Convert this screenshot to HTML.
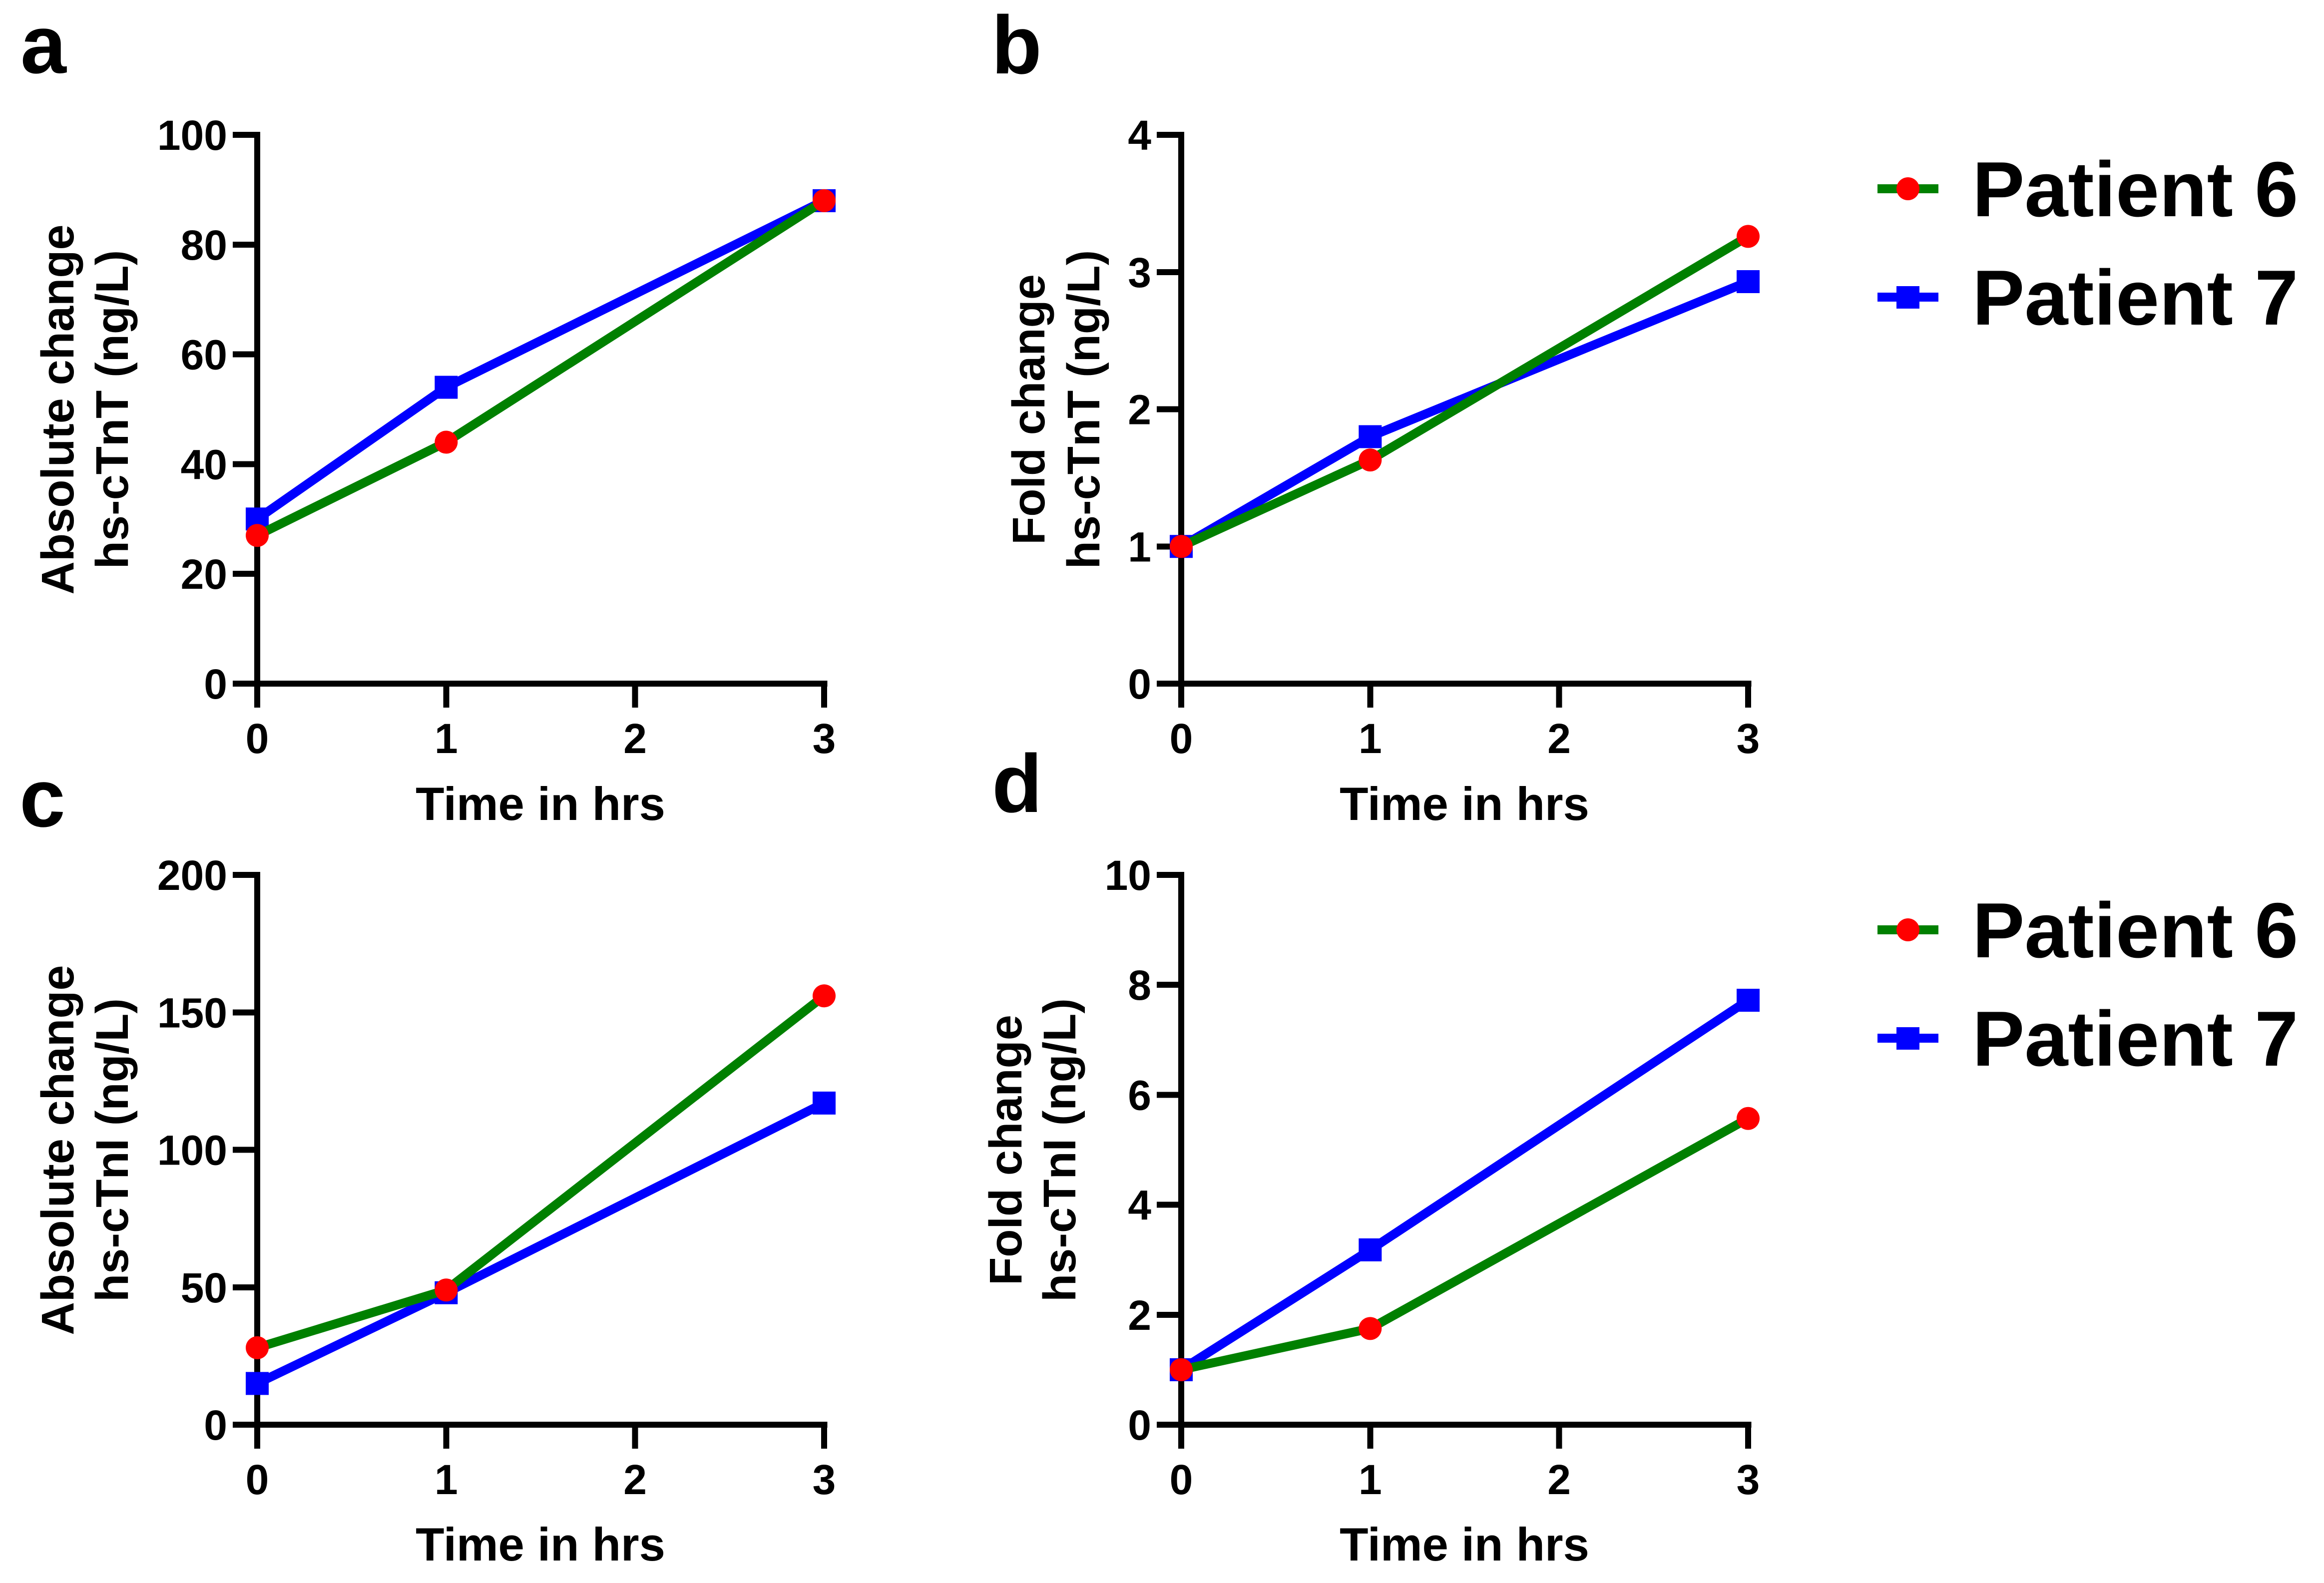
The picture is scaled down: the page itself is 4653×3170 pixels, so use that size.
<!DOCTYPE html>
<html lang="en">
<head>
<meta charset="utf-8">
<title>hs-cTnT and hs-cTnI change over time</title>
<style>
  html, body { margin: 0; padding: 0; background: #fff; }
  svg { display: block; }
  text { font-family: "Liberation Sans", Arial, sans-serif; font-weight: 700; fill: #000; }
  .panel-letter { font-size: 165px; }
  .axis-title { font-size: 92px; }
  .x-title { font-size: 94px; }
  .tick-label { font-size: 84px; }
  .legend-label { font-size: 156.5px; }
</style>
</head>
<body>
<svg id="figure" xmlns="http://www.w3.org/2000/svg" width="4653" height="3170" viewBox="0 0 4653 3170">
  <rect x="0" y="0" width="4653" height="3170" fill="#ffffff"/>

  <text class="panel-letter" x="41" y="146">a</text>
  <text class="panel-letter" x="1985" y="147">b</text>
  <text class="panel-letter" x="39" y="1655">c</text>
  <text class="panel-letter" x="1986" y="1626">d</text>

  <g id="panel-a">
    <text class="axis-title" text-anchor="middle" transform="translate(147 820) rotate(-90)">Absolute change</text>
    <text class="axis-title" text-anchor="middle" transform="translate(256 820) rotate(-90)">hs-cTnT (ng/L)</text>
    <text class="axis-title x-title" text-anchor="middle" x="1082" y="1642">Time in hrs</text>
  </g>
  <g id="panel-b">
    <text class="axis-title" text-anchor="middle" transform="translate(2091 820) rotate(-90)">Fold change</text>
    <text class="axis-title" text-anchor="middle" transform="translate(2201 820) rotate(-90)">hs-cTnT (ng/L)</text>
    <text class="axis-title x-title" text-anchor="middle" x="2932" y="1642">Time in hrs</text>
  </g>
  <g id="panel-c">
    <text class="axis-title" text-anchor="middle" transform="translate(147 2303) rotate(-90)">Absolute change</text>
    <text class="axis-title" text-anchor="middle" transform="translate(256 2303) rotate(-90)">hs-cTnI (ng/L)</text>
    <text class="axis-title x-title" text-anchor="middle" x="1082" y="3125">Time in hrs</text>
  </g>
  <g id="panel-d">
    <text class="axis-title" text-anchor="middle" transform="translate(2045 2303) rotate(-90)">Fold change</text>
    <text class="axis-title" text-anchor="middle" transform="translate(2153 2303) rotate(-90)">hs-cTnI (ng/L)</text>
    <text class="axis-title x-title" text-anchor="middle" x="2932" y="3125">Time in hrs</text>
  </g>

  <g id="legend-top">
    <g>
      <rect x="3759" y="369" width="122" height="18" fill="#008000"/>
      <circle cx="3820" cy="378" r="23" fill="#ff0000"/>
      <text class="legend-label" x="3949" y="433">Patient 6</text>
    </g>
    <g>
      <rect x="3759" y="586" width="122" height="18" fill="#0000ff"/>
      <rect x="3797" y="573" width="46" height="45" fill="#0000ff"/>
      <text class="legend-label" x="3949" y="650">Patient 7</text>
    </g>
  </g>
  <g id="legend-bottom" transform="translate(0 1484)">
    <g>
      <rect x="3759" y="369" width="122" height="18" fill="#008000"/>
      <circle cx="3820" cy="378" r="23" fill="#ff0000"/>
      <text class="legend-label" x="3949" y="433">Patient 6</text>
    </g>
    <g>
      <rect x="3759" y="586" width="122" height="18" fill="#0000ff"/>
      <rect x="3797" y="573" width="46" height="45" fill="#0000ff"/>
      <text class="legend-label" x="3949" y="650">Patient 7</text>
    </g>
  </g>
</svg>

<script>
// Shared x values and ticks
const hours = [0, 1, 3];
const xTickLabels = [0, 1, 2, 3];

// Panel a: absolute change hs-cTnT
const aYTicks = [0, 20, 40, 60, 80, 100];
const aPatient6 = [27, 44, 88];
const aPatient7 = [30, 54, 88];

// Panel b: fold change hs-cTnT
const bYTicks = [0, 1, 2, 3, 4];
const bPatient6 = [1, 1.63, 3.26];
const bPatient7 = [1, 1.8, 2.93];

// Panel c: absolute change hs-cTnI
const cYTicks = [0, 50, 100, 150, 200];
const cPatient6 = [28, 49, 156];
const cPatient7 = [15, 48, 117];

// Panel d: fold change hs-cTnI
const dYTicks = [0, 2, 4, 6, 8, 10];
const dPatient6 = [1, 1.75, 5.57];
const dPatient7 = [1, 3.18, 7.72];

const SVG_NS = 'http://www.w3.org/2000/svg';
const BLACK = '#000000';

function add(parent, tag, attrs) {
  const el = document.createElementNS(SVG_NS, tag);
  for (const k in attrs) el.setAttribute(k, attrs[k]);
  parent.appendChild(el);
  return el;
}

function drawPanel(id, frame, yTicks, patient6, patient7) {
  const root = document.getElementById(id);
  const xMax = xTickLabels[xTickLabels.length - 1];
  const yMax = yTicks[yTicks.length - 1];
  const xScale = v => frame.left + (v / xMax) * frame.width;
  const yScale = v => frame.bottom - (v / yMax) * frame.height;

  // Axis lines
  const yAxis = add(root, 'rect', { x: xScale(0) - 6, y: yScale(yMax) - 6, width: 12, height: frame.bottom + 48 - (yScale(yMax) - 6), fill: BLACK, 'shape-rendering': 'crispEdges' });
  
  
  const xAxis = add(root, 'rect', { x: xScale(0) - 49, y: frame.bottom - 6, width: frame.width + 49 + 6.5, height: 12, fill: BLACK, 'shape-rendering': 'crispEdges' });
  
  

  // Y ticks
  yTicks.forEach(t => {
    const tick = add(root, 'rect', { x: xScale(0) - 49, y: yScale(t) - 6, width: 49, height: 12, fill: BLACK, 'shape-rendering': 'crispEdges' });
    
    
    const label = add(root, 'text', { class: 'tick-label', 'text-anchor': 'end', x: xScale(0) - 60, y: yScale(t) + 30 });
    
    
    label.textContent = t;
  });

  // X ticks
  xTickLabels.forEach(t => {
    const tick = add(root, 'rect', { x: xScale(t) - 6, y: frame.bottom, width: 12, height: 48, fill: BLACK, 'shape-rendering': 'crispEdges' });
    
    
    const label = add(root, 'text', { class: 'tick-label', 'text-anchor': 'middle', x: xScale(t), y: frame.bottom + 139 });
    
    
    label.textContent = t;
  });

  // Patient 7 sits under Patient 6
  const blue = add(root, 'polyline', { points: hours.map((h, i) => xScale(h) + ',' + yScale(patient7[i])).join(' '), fill: 'none', stroke: '#0000ff', 'stroke-width': 18, 'stroke-linejoin': 'miter' });
  
  
  hours.forEach((h, i) => {
    const sq = add(root, 'rect', { x: xScale(h) - 23, y: yScale(patient7[i]) - 23, width: 46, height: 46, fill: '#0000ff' });
    
    
  });

  const green = add(root, 'polyline', { points: hours.map((h, i) => xScale(h) + ',' + yScale(patient6[i])).join(' '), fill: 'none', stroke: '#008000', 'stroke-width': 18, 'stroke-linejoin': 'miter' });
  
  
  hours.forEach((h, i) => {
    const dot = add(root, 'circle', { cx: xScale(h), cy: yScale(patient6[i]), r: 23, fill: '#ff0000' });
    
    
  });
}

const frameTopLeft = { left: 515, width: 1135, bottom: 1369, height: 1099 };
const frameTopRight = { left: 2365, width: 1135, bottom: 1369, height: 1099 };
const frameBottomLeft = { left: 515, width: 1135, bottom: 2853, height: 1101 };
const frameBottomRight = { left: 2365, width: 1135, bottom: 2853, height: 1101 };

drawPanel('panel-a', frameTopLeft, aYTicks, aPatient6, aPatient7);
drawPanel('panel-b', frameTopRight, bYTicks, bPatient6, bPatient7);
drawPanel('panel-c', frameBottomLeft, cYTicks, cPatient6, cPatient7);
drawPanel('panel-d', frameBottomRight, dYTicks, dPatient6, dPatient7);
</script>
</body>
</html>
